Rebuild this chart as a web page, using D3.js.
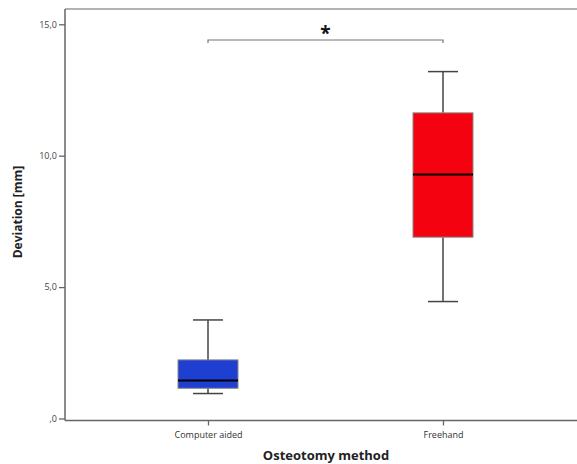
<!DOCTYPE html>
<html><head><meta charset="utf-8">
<script src="https://cdn.jsdelivr.net/npm/d3@7"></script>
<style>body{margin:0;background:#fff}svg{display:block}</style>
</head><body>
<svg id="c" width="577" height="464"></svg>
<script>
const categories = ["Computer aided", "Freehand"];
const whiskerLow = [0.95, 4.45];
const q1 = [1.15, 6.9];
const median = [1.45, 9.28];
const q3 = [2.23, 11.63];
const whiskerHigh = [3.75, 13.2];
const yTicks = [0, 5, 10, 15];
const yTickLabels = [",0", "5,0", "10,0", "15,0"];
const boxColors = ["#1e3fd2", "#f50210"];
const xTitle = "Osteotomy method";
const yTitle = "Deviation [mm]";
const sigLabel = "*";

(function () {
const svg = d3.select("#c");
const y = d3.scaleLinear().domain([0, 15]).range([418.5, 24.3]);
const x = d3.scalePoint().domain(categories).range([208, 443]);
const pLeft = 65, pRight = 590, pTop = y(15.58), pBottom = 420.5;

const font = "'Open Sans', sans-serif";
const grey = "#666";

// frame
svg.append("line").attr("x1", pLeft).attr("x2", pRight).attr("y1", pTop).attr("y2", pTop).attr("stroke", "#999").attr("stroke-width", 1.5);
svg.append("line").attr("x1", pLeft).attr("x2", pRight).attr("y1", pBottom).attr("y2", pBottom).attr("stroke", grey).attr("stroke-width", 1.5);
svg.append("line").attr("x1", pLeft).attr("x2", pLeft).attr("y1", pTop).attr("y2", pBottom).attr("stroke", grey).attr("stroke-width", 1.5);

// y axis
const yAxis = d3.axisLeft(y).tickValues(yTicks).tickSize(6).tickFormat((d, i) => yTickLabels[i]);
const gy = svg.append("g").attr("transform", `translate(${pLeft},0)`).call(yAxis);
gy.select(".domain").remove();
gy.selectAll(".tick line").attr("stroke", grey).attr("stroke-width", 1.3);
gy.selectAll(".tick text").attr("font-family", font).attr("font-size", 9).attr("fill", "#444").attr("x", -8);

// x axis
const xAxis = d3.axisBottom(x).tickSize(5).tickSizeOuter(0);
const gx = svg.append("g").attr("transform", `translate(0,${pBottom})`).call(xAxis);
gx.select(".domain").remove();
gx.selectAll(".tick line").attr("stroke", grey).attr("stroke-width", 1.3);
gx.selectAll(".tick text").attr("font-family", font).attr("font-size", 9).attr("fill", "#333").attr("y", 11);

// titles
svg.append("text").attr("x", 326).attr("y", 459.5).attr("text-anchor", "middle")
  .attr("font-family", font).attr("font-weight", "bold").attr("font-size", 13).attr("fill", "#222").text(xTitle);
svg.append("text").attr("transform", "translate(22,212) rotate(-90)").attr("text-anchor", "middle")
  .attr("font-family", font).attr("font-weight", "bold").attr("font-size", 12).attr("fill", "#222").text(yTitle);

// boxes
const boxW = 60, capW = 30;
categories.forEach((c, i) => {
  const cx = x(c);
  const g = svg.append("g");
  g.append("line").attr("x1", cx).attr("x2", cx).attr("y1", y(whiskerHigh[i])).attr("y2", y(q3[i])).attr("stroke", "#444").attr("stroke-width", 1.5);
  g.append("line").attr("x1", cx).attr("x2", cx).attr("y1", y(q1[i])).attr("y2", y(whiskerLow[i])).attr("stroke", "#444").attr("stroke-width", 1.5);
  g.append("line").attr("x1", cx - capW / 2).attr("x2", cx + capW / 2).attr("y1", y(whiskerHigh[i])).attr("y2", y(whiskerHigh[i])).attr("stroke", "#444").attr("stroke-width", 1.5);
  g.append("line").attr("x1", cx - capW / 2).attr("x2", cx + capW / 2).attr("y1", y(whiskerLow[i])).attr("y2", y(whiskerLow[i])).attr("stroke", "#444").attr("stroke-width", 1.5);
  g.append("rect").attr("x", cx - boxW / 2).attr("width", boxW).attr("y", y(q3[i])).attr("height", y(q1[i]) - y(q3[i]))
    .attr("fill", boxColors[i]).attr("stroke", "#888").attr("stroke-width", 1);
  g.append("line").attr("x1", cx - boxW / 2).attr("x2", cx + boxW / 2).attr("y1", y(median[i])).attr("y2", y(median[i])).attr("stroke", "#000").attr("stroke-width", 2);
});

// significance bracket
const by = 40;
const x0 = x(categories[0]), x1 = x(categories[1]);
svg.append("path").attr("d", `M${x0},${by + 3}V${by}H${x1}V${by + 3}`).attr("fill", "none").attr("stroke", "#777").attr("stroke-width", 1.2);
svg.append("text").attr("x", (x0 + x1) / 2).attr("y", by).attr("text-anchor", "middle")
  .attr("font-family", font).attr("font-weight", "bold").attr("font-size", 19).attr("fill", "#111").text(sigLabel);
})();
</script>
</body></html>
